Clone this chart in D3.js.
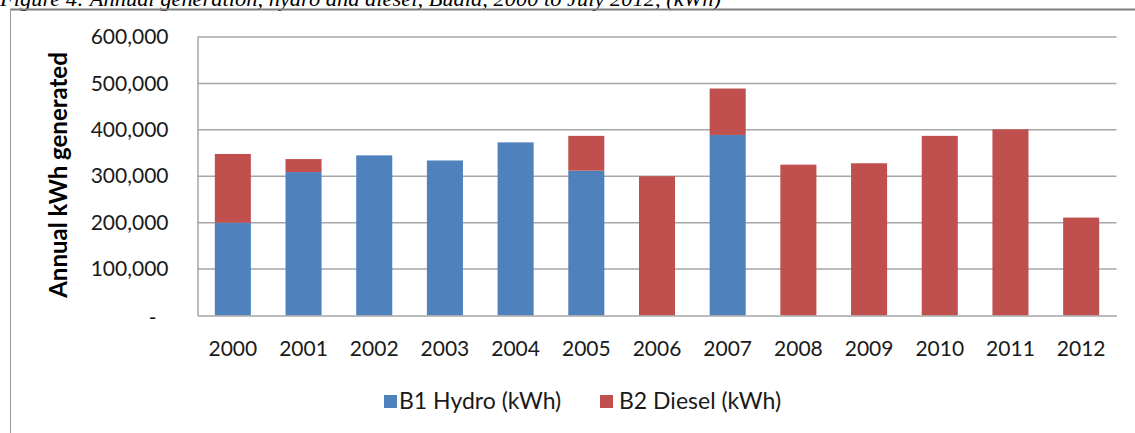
<!DOCTYPE html>
<html>
<head>
<meta charset="utf-8">
<script src="https://cdn.jsdelivr.net/npm/d3@7"></script>
<style>
  html, body { margin: 0; padding: 0; background: #fff; }
  svg { display: block; }
</style>
</head>
<body>
<svg id="chart" width="1135" height="433"></svg>
<script>
// ---- data ----
const years = ["2000","2001","2002","2003","2004","2005","2006","2007","2008","2009","2010","2011","2012"];
const hydro  = [200000, 309000, 345000, 334000, 373000, 312000, 0, 389000, 0, 0, 0, 0, 0];
const diesel = [148000, 28000, 0, 0, 0, 75000, 300000, 100000, 325000, 328000, 387000, 401000, 211000];
const seriesNames = ["B1 Hydro (kWh)", "B2 Diesel (kWh)"];
const seriesColors = ["#4F81BD", "#C0504D"];
const yTicks = [0, 100000, 200000, 300000, 400000, 500000, 600000];
const titleText = "Figure 4: Annual generation, hydro and diesel, Buala, 2000 to July 2012, (kWh)";
const yTitle = "Annual kWh generated";

// ---- build ----
const rows = years.map((yr, i) => ({ year: yr, hydro: hydro[i], diesel: diesel[i] }));
const stack = d3.stack().keys(["hydro", "diesel"]);
const stacked = stack(rows);

const svg = d3.select("#chart");
const font = "Lato, 'Open Sans', sans-serif";

const x = d3.scaleBand().domain(years).range([197.5, 1116.5]).paddingInner(0.49).paddingOuter(0.245);
const y = d3.scaleLinear().domain([0, 600000]).range([315.5, 37]);

// title (clipped at top, as in the source document)
svg.append("text")
  .attr("x", 0).attr("y", 5.5)
  .attr("font-family", "'Liberation Serif', 'Times New Roman', serif")
  .attr("font-style", "italic")
  .attr("font-size", 22)
  .attr("textLength", 721)
  .attr("lengthAdjust", "spacingAndGlyphs")
  .attr("fill", "#000")
  .text(titleText);

// outer frame
svg.append("line").attr("x1", 10).attr("x2", 1135).attr("y1", 9.5).attr("y2", 9.5)
  .attr("stroke", "#7f7f7f").attr("stroke-width", 2);
svg.append("line").attr("x1", 10.5).attr("x2", 10.5).attr("y1", 9).attr("y2", 433)
  .attr("stroke", "#9a9a9a").attr("stroke-width", 1);

// gridlines
svg.append("g")
  .selectAll("line")
  .data(yTicks.filter(d => d > 0))
  .join("line")
  .attr("x1", 197.5).attr("x2", 1116.5)
  .attr("y1", d => y(d)).attr("y2", d => y(d))
  .attr("stroke", "#a6a6a6").attr("stroke-width", 1.5);

// bars
svg.append("g")
  .selectAll("g")
  .data(stacked)
  .join("g")
  .attr("fill", (d, i) => seriesColors[i])
  .selectAll("rect")
  .data(d => d.filter(s => s[1] - s[0] > 0))
  .join("rect")
  .attr("x", d => x(d.data.year))
  .attr("width", x.bandwidth())
  .attr("y", d => y(d[1]))
  .attr("height", d => y(d[0]) - y(d[1]));

// y axis
const yAxis = svg.append("g")
  .attr("transform", "translate(197.5,0)")
  .call(d3.axisLeft(y).tickValues(yTicks).tickSize(0).tickPadding(29)
    .tickFormat(d => d === 0 ? "-" : d3.format(",")(d)));
yAxis.select(".domain").attr("stroke", "#a6a6a6").attr("stroke-width", 1.5);
yAxis.selectAll("text")
  .attr("font-family", font).attr("font-size", 21).attr("fill", "#1a1a1a")
  .attr("dx", d => d === 0 ? -12 : 0)
  .attr("dy", d => d === 0 ? "0.45em" : "0.32em");

// x axis
const xAxis = svg.append("g")
  .attr("transform", "translate(0,315.5)")
  .call(d3.axisBottom(x).tickSize(0).tickSizeOuter(0).tickPadding(26));
xAxis.select(".domain").attr("stroke", "#a6a6a6").attr("stroke-width", 1.5);
xAxis.selectAll("text")
  .attr("font-family", font).attr("font-size", 21).attr("fill", "#1a1a1a");

// y title
svg.append("text")
  .attr("transform", "translate(67,175) rotate(-90)")
  .attr("text-anchor", "middle")
  .attr("font-family", font).attr("font-weight", "bold").attr("font-size", 24)
  .attr("fill", "#000")
  .text(yTitle);

// legend
const legendX = [384, 600];
const legendTextX = [399, 619];
const leg = svg.append("g");
seriesNames.forEach((name, i) => {
  leg.append("rect").attr("x", legendX[i]).attr("y", 395).attr("width", 13).attr("height", 13)
    .attr("fill", seriesColors[i]);
  leg.append("text").attr("x", legendTextX[i]).attr("y", 409)
    .attr("font-family", font).attr("font-size", 23).attr("fill", "#1a1a1a")
    .text(name);
});
</script>
</body>
</html>
